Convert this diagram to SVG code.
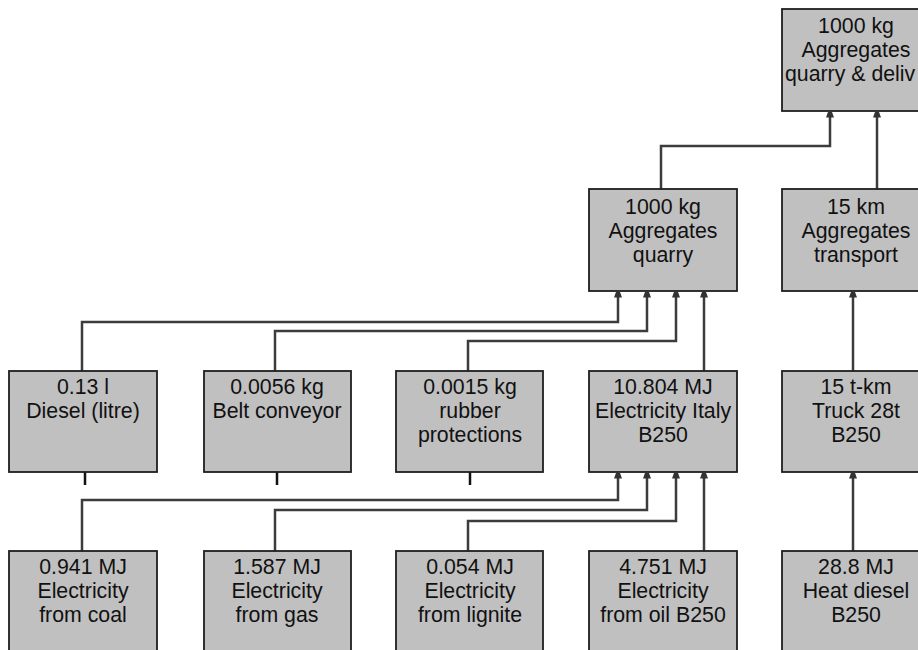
<svg xmlns="http://www.w3.org/2000/svg" width="918" height="650" viewBox="0 0 918 650">
<style>
.box{fill:#c0c0c0;stroke:#1e1e1e;stroke-width:1.8}
text{font-family:"Liberation Sans",Arial,sans-serif;font-size:21.3px;fill:#111;text-anchor:middle}
.c{fill:none;stroke:#3c3c3c;stroke-width:2.5}
.tick{stroke:#111;stroke-width:2.5}
</style>
<defs>
<marker id="ah" markerUnits="userSpaceOnUse" markerWidth="12" markerHeight="12" viewBox="-7 -6 8 12" refX="0" refY="0" orient="auto">
<path d="M0,-2 L0,2 L-5.5,4 L-5.5,-4 Z" fill="#333"/>
</marker>
</defs>
<rect width="918" height="650" fill="#fff"/>
<g id="connectors">
<path class="c" d="M661,189 V146 H830 V112" marker-end="url(#ah)"/>
<path class="c" d="M877,189 V112" marker-end="url(#ah)"/>
<path class="c" d="M82,371 V322 H618 V292" marker-end="url(#ah)"/>
<path class="c" d="M275,371 V331 H647 V292" marker-end="url(#ah)"/>
<path class="c" d="M468,371 V341 H676 V292" marker-end="url(#ah)"/>
<path class="c" d="M704,371 V292" marker-end="url(#ah)"/>
<path class="c" d="M853,371 V292" marker-end="url(#ah)"/>
<path class="c" d="M853,551 V473" marker-end="url(#ah)"/>
<path class="c" d="M82,551 V500 H618 V473" marker-end="url(#ah)"/>
<path class="c" d="M275,551 V510 H647 V473" marker-end="url(#ah)"/>
<path class="c" d="M468,551 V521 H676 V473" marker-end="url(#ah)"/>
<path class="c" d="M704,551 V473" marker-end="url(#ah)"/>
<line class="tick" x1="85" y1="472" x2="85" y2="485"/>
<line class="tick" x1="277" y1="472" x2="277" y2="485"/>
<line class="tick" x1="470" y1="472" x2="470" y2="485"/>
</g>
<g id="n-top">
<rect class="box" x="782" y="9" width="148" height="102"/>
<text x="856" y="33">1000 kg</text>
<text x="856" y="57">Aggregates</text>
<text x="785" y="81" style="text-anchor:start">quarry &amp; deliv</text>
</g>
<g id="n-quarry">
<rect class="box" x="589" y="189" width="148" height="102"/>
<text x="663" y="214">1000 kg</text>
<text x="663" y="238">Aggregates</text>
<text x="663" y="262">quarry</text>
</g>
<g id="n-transport">
<rect class="box" x="782" y="189" width="148" height="102"/>
<text x="856" y="214">15 km</text>
<text x="856" y="238">Aggregates</text>
<text x="856" y="262">transport</text>
</g>
<g id="n-diesel">
<rect class="box" x="9" y="371" width="148" height="101"/>
<text x="83" y="394">0.13 l</text>
<text x="83" y="418">Diesel (litre)</text>
</g>
<g id="n-belt">
<rect class="box" x="204" y="371" width="147" height="101"/>
<text x="277" y="394">0.0056 kg</text>
<text x="277" y="418">Belt conveyor</text>
</g>
<g id="n-rubber">
<rect class="box" x="396" y="371" width="147" height="101"/>
<text x="470" y="394">0.0015 kg</text>
<text x="470" y="418">rubber</text>
<text x="470" y="442">protections</text>
</g>
<g id="n-elec-italy">
<rect class="box" x="589" y="371" width="148" height="101"/>
<text x="663" y="394">10.804 MJ</text>
<text x="663" y="418">Electricity Italy</text>
<text x="663" y="442">B250</text>
</g>
<g id="n-truck">
<rect class="box" x="782" y="371" width="148" height="101"/>
<text x="856" y="394">15 t-km</text>
<text x="856" y="418">Truck 28t</text>
<text x="856" y="442">B250</text>
</g>
<g id="n-coal">
<rect class="box" x="9" y="551" width="148" height="102"/>
<text x="83" y="574">0.941 MJ</text>
<text x="83" y="598">Electricity</text>
<text x="83" y="622">from coal</text>
</g>
<g id="n-gas">
<rect class="box" x="204" y="551" width="147" height="102"/>
<text x="277" y="574">1.587 MJ</text>
<text x="277" y="598">Electricity</text>
<text x="277" y="622">from gas</text>
</g>
<g id="n-lignite">
<rect class="box" x="396" y="551" width="147" height="102"/>
<text x="470" y="574">0.054 MJ</text>
<text x="470" y="598">Electricity</text>
<text x="470" y="622">from lignite</text>
</g>
<g id="n-oil">
<rect class="box" x="589" y="551" width="148" height="102"/>
<text x="663" y="574">4.751 MJ</text>
<text x="663" y="598">Electricity</text>
<text x="663" y="622">from oil B250</text>
</g>
<g id="n-heat">
<rect class="box" x="782" y="551" width="148" height="102"/>
<text x="856" y="574">28.8 MJ</text>
<text x="856" y="598">Heat diesel</text>
<text x="856" y="622">B250</text>
</g>
</svg>
